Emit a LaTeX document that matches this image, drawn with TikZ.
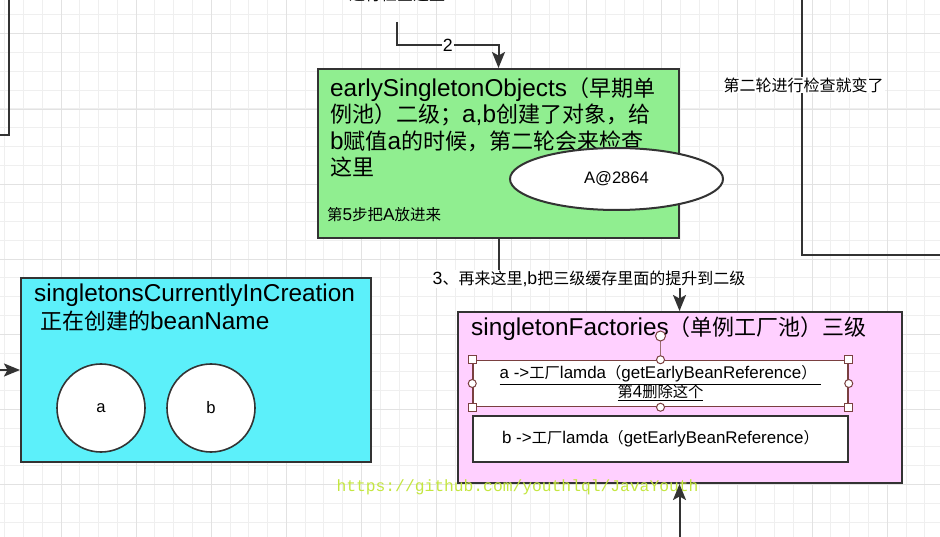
\documentclass[tikz,border=0pt]{standalone}
\usepackage{fontspec}
\setmainfont{Liberation Sans}[Scale=1.107]
\newfontfamily\zhfont{Noto Sans CJK SC}
\newfontfamily\wmfont{Liberation Mono}
\newcommand{\zh}[1]{{\zhfont #1}}
\usepackage{tikz}
\usetikzlibrary{arrows.meta}
\usetikzlibrary{positioning,shapes.geometric}
\definecolor{boxline}{HTML}{333333}
\definecolor{poolgreen}{HTML}{90EE90}
\definecolor{poolcyan}{HTML}{5CF0FA}
\definecolor{poolpink}{HTML}{FFD0FF}
\definecolor{selred}{HTML}{7A4040}
\definecolor{gridminor}{HTML}{EFEFEF}
\definecolor{gridmajor}{HTML}{E2E2E2}
\definecolor{wmark}{HTML}{C4E640}
\tikzset{
    pool/.style={
        draw=boxline,
        line width=2pt,
        rectangle,
        inner sep=0pt
    },
    bean/.style={
        draw=boxline,
        line width=1.6pt,
        circle,
        fill=white,
        minimum size=88pt,
        inner sep=0pt,
        font=\fontsize{15}{18}\selectfont
    },
    lamda/.style={
        rectangle,
        fill=white,
        minimum width=375pt,
        minimum height=46pt,
        inner sep=0pt,
        align=center,
        font=\fontsize{15.3}{19}\selectfont
    },
    flow/.style={
        draw=boxline,
        line width=2pt,
        -{Stealth[length=16pt, width=13pt, inset=3.5pt]}
    },
    note/.style={fill=white, inner sep=1pt, font=\fontsize{16}{18}\selectfont},
    handle/.style={draw=selred, fill=white, line width=1pt, inner sep=0pt}
}

\begin{document}
\begin{tikzpicture}[x=1pt, y=-1pt]
    \clip (0,0) rectangle (940,537);
    \fill[white] (0,0) rectangle (940,537);

    % Grid paper
    \foreach \i in {0,...,50} {
        \draw[gridminor, line width=1pt] ({4.66+18.78*\i},0) -- ++(0,537);
        \draw[gridminor, line width=1pt] (0,{-3.78+18.78*\i}) -- ++(940,0);
    }
    \foreach \i in {0,...,13} {
        \draw[gridmajor, line width=1pt] ({-14.1+75.12*\i},0) -- ++(0,537);
        \draw[gridmajor, line width=1pt] (0,{-41.2+75.12*\i}) -- ++(940,0);
    }

    % Boxes cut off at the border
    \draw[boxline, line width=2pt] (-50,-50) rectangle (9.3,134.7);
    \draw[boxline, line width=2pt] (802,-50) rectangle (1100,255);
    \node[font=\fontsize{16}{18}\selectfont] (topnote) at (397,-6) {\zh{进行检查这里}};
    \node[note] (turn2) at (803.5,85) {\zh{第二轮进行检查就变了}};

    % Second level cache
    \node[pool, fill=poolgreen, minimum width=361pt, minimum height=169pt] (early) at (498.5,153.5) {};
    \node[anchor=north west, inner sep=0pt, align=left, font=\fontsize{22}{26.5}\selectfont] (earlytitle) at (330,77)
        {earlySingletonObjects\zh{（早期单}\\\zh{例池）二级；}a,b\zh{创建了对象，给}\\b\zh{赋值}a\zh{的时候，第二轮会来检查}\\\zh{这里}};
    \node[anchor=west, inner sep=0pt, font=\fontsize{15.5}{18}\selectfont] (step5) at (327,215) {\zh{第}5\zh{步把}A\zh{放进来}};
    \node[draw=boxline, line width=2pt, ellipse, fill=white, minimum width=213pt, minimum height=62pt,
        font=\fontsize{15}{18}\selectfont] (addr) at (616.5,179) {A@2864};

    % Beans in creation
    \node[pool, fill=poolcyan, minimum width=350pt, minimum height=184pt] (current) at (196,370) {};
    \node[anchor=north west, inner sep=0pt, align=left, font=\fontsize{22}{28}\selectfont] (currenttitle) at (34,284)
        {singletonsCurrentlyInCreation\\\hspace*{6pt}\zh{正在创建的}beanName};
    \node[bean] (beanA) at (101,408) {a};
    \node[bean] (beanB) at (211,408) {b};

    % Third level cache
    \node[pool, fill=poolpink, minimum width=444pt, minimum height=171pt] (factories) at (679.5,397.5) {};
    \node[anchor=west, inner sep=0pt, font=\fontsize{22}{26}\selectfont] (factoriestitle) at (471,329)
        {singletonFactories\zh{（单例工厂池）三级}};
    \node[lamda, draw=selred, line width=1.5pt] (lamdaA) at (660.5,383.5)
        {\underline{a ->\zh{工厂}lamda\zh{（}getEarlyBeanReference\zh{）}\ }\\\underline{\zh{第}4\zh{删除这个}}};
    \node[lamda, draw=boxline, line width=2pt] (lamdaB) at (660.5,439)
        {b ->\zh{工厂}lamda\zh{（}getEarlyBeanReference\zh{）}};

    % Selection handles
    \coordinate (rotc) at (660.5,336);
    \draw[selred!75, line width=1pt] (rotc) -- (lamdaA.north);
    \node[handle, circle, minimum size=10pt] (rot) at (rotc) {};
    \foreach \c in {north west, north east, south west, south east}
        \node[handle, minimum size=8pt] at (lamdaA.\c) {};
    \foreach \c in {north, south, west, east}
        \node[handle, circle, minimum size=8pt] at (lamdaA.\c) {};

    % Watermark
    \node[text=wmark, font=\wmfont\fontsize{16.3}{18}\selectfont] (wm) at (517.5,487)
        {https://github.com/youthlql/JavaYouth};

    % Connectors
    \coordinate (src1) at (-20,370);
    \coordinate (src2) at (397,22);
    \coordinate (src4) at (679.5,560);
    \draw[flow] (src1) -- (current.west);
    \draw[flow] (src2) -- ++(0,23) -| node[note, pos=0.25] {2} (early.north);
    \draw[flow] (early.south) -- ++(0,40) -| node[note, pos=0.25] {3\zh{、再来这里}{,}b\zh{把三级缓存里面的提升到二级}} (factories.north);
    \draw[flow] (src4) -- (factories.south);
\end{tikzpicture}
\end{document}
